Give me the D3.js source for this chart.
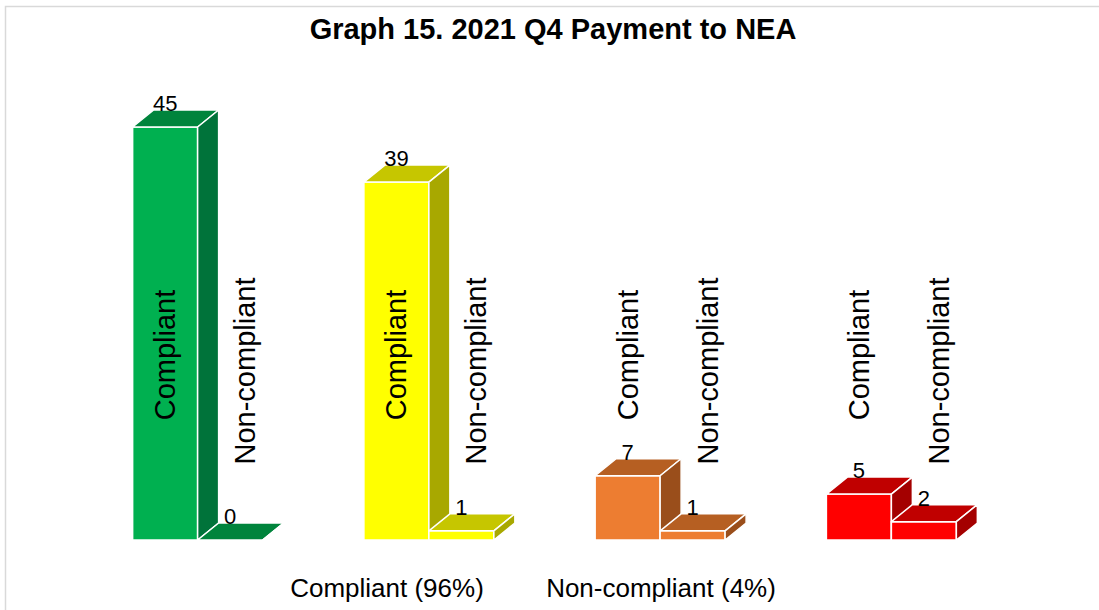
<!DOCTYPE html>
<html>
<head>
<meta charset="utf-8">
<script src="https://cdn.jsdelivr.net/npm/d3@7"></script>
<style>
  html, body { margin: 0; padding: 0; background: #fff; }
  text { font-family: "Liberation Sans", Arial, sans-serif; fill: #000; }
</style>
</head>
<body>
<div id="chart"></div>
<script>
// data
const groups = ['Green', 'Yellow', 'Orange', 'Red'];
const series = ['Compliant', 'Non-compliant'];
const compliant = [45, 39, 7, 5];
const nonCompliant = [0, 1, 1, 2];
const footerLabels = ['Compliant (96%)', 'Non-compliant (4%)'];
const title = 'Graph 15. 2021 Q4 Payment to NEA';

// face colours per group (front, top, side)
const palette = [
  {front: '#00b050', top: '#00843c', side: '#00733a'},
  {front: '#ffff00', top: '#c6c600', side: '#a8a800'},
  {front: '#ed7d31', top: '#b65f22', side: '#9a4e1b'},
  {front: '#ff0000', top: '#c00000', side: '#a40000'}
];

const width = 1099;
const height = 610;
const depth = {dx: 21, dy: 17};

const svg = d3.select('#chart')
  .append('svg')
  .attr('width', width)
  .attr('height', height);

// chart frame
svg.append('rect')
  .attr('x', 5.5).attr('y', 6.5)
  .attr('width', 1200).attr('height', 700)
  .attr('fill', 'none')
  .attr('stroke', '#d9d9d9')
  .attr('stroke-width', 1.5);

svg.append('text')
  .attr('x', 553).attr('y', 39)
  .attr('text-anchor', 'middle')
  .attr('font-size', '29px')
  .attr('font-weight', 'bold')
  .text(title);

const x = d3.scaleBand()
  .domain(groups)
  .range([82, 1007])
  .paddingInner(0.438)
  .paddingOuter(0.219);

const xs = d3.scaleBand()
  .domain(series)
  .range([0, x.bandwidth()]);

const y = d3.scaleLinear()
  .domain([0, 45])
  .range([540, 127]);

const bars = [];
groups.forEach((g, i) => {
  bars.push({group: g, gi: i, series: series[0], value: compliant[i]});
  bars.push({group: g, gi: i, series: series[1], value: nonCompliant[i]});
});

const pts = a => a.map(p => p.join(',')).join(' ');

const bar = svg.append('g')
  .selectAll('g')
  .data(bars)
  .join('g')
  .each(function(d) {
    const g = d3.select(this);
    const x0 = x(d.group) + xs(d.series);
    const x1 = x0 + xs.bandwidth();
    const yt = y(d.value);
    const yb = y(0);
    const c = palette[d.gi];
    g.append('rect')
      .attr('x', x0).attr('y', yt)
      .attr('width', x1 - x0).attr('height', yb - yt)
      .attr('fill', c.front);
    g.append('polygon')
      .attr('points', pts([[x0, yt], [x0 + depth.dx, yt - depth.dy], [x1 + depth.dx, yt - depth.dy], [x1, yt]]))
      .attr('fill', c.top);
    g.append('polygon')
      .attr('points', pts([[x1, yt], [x1 + depth.dx, yt - depth.dy], [x1 + depth.dx, yb - depth.dy], [x1, yb]]))
      .attr('fill', c.side);
    g.selectAll('rect, polygon')
      .attr('stroke', '#fff')
      .attr('stroke-width', 1.5)
      .attr('stroke-linejoin', 'round');
  });

// value labels above each bar
svg.append('g')
  .selectAll('text')
  .data(bars)
  .join('text')
  .attr('x', d => x(d.group) + xs(d.series) + xs.bandwidth() / 2)
  .attr('y', d => y(d.value) - depth.dy + 1)
  .attr('text-anchor', 'middle')
  .attr('font-size', '22px')
  .text(d => d.value);

// series name labels, rotated
svg.append('g')
  .selectAll('text')
  .data(bars)
  .join('text')
  .attr('transform', d => {
    const cx = x(d.group) + xs(d.series) + xs.bandwidth() / 2 + (d.series === series[0] ? 0 : 15);
    const cy = d.series === series[0] ? 355 : 371;
    return `translate(${cx},${cy}) rotate(-90)`;
  })
  .attr('text-anchor', 'middle')
  .attr('dominant-baseline', 'central')
  .attr('font-size', '29px')
  .text(d => d.series);

// footer labels
svg.append('g')
  .selectAll('text')
  .data(footerLabels)
  .join('text')
  .attr('x', (d, i) => [387, 661][i])
  .attr('y', 597)
  .attr('text-anchor', 'middle')
  .attr('font-size', '26px')
  .text(d => d);
</script>
</body>
</html>
